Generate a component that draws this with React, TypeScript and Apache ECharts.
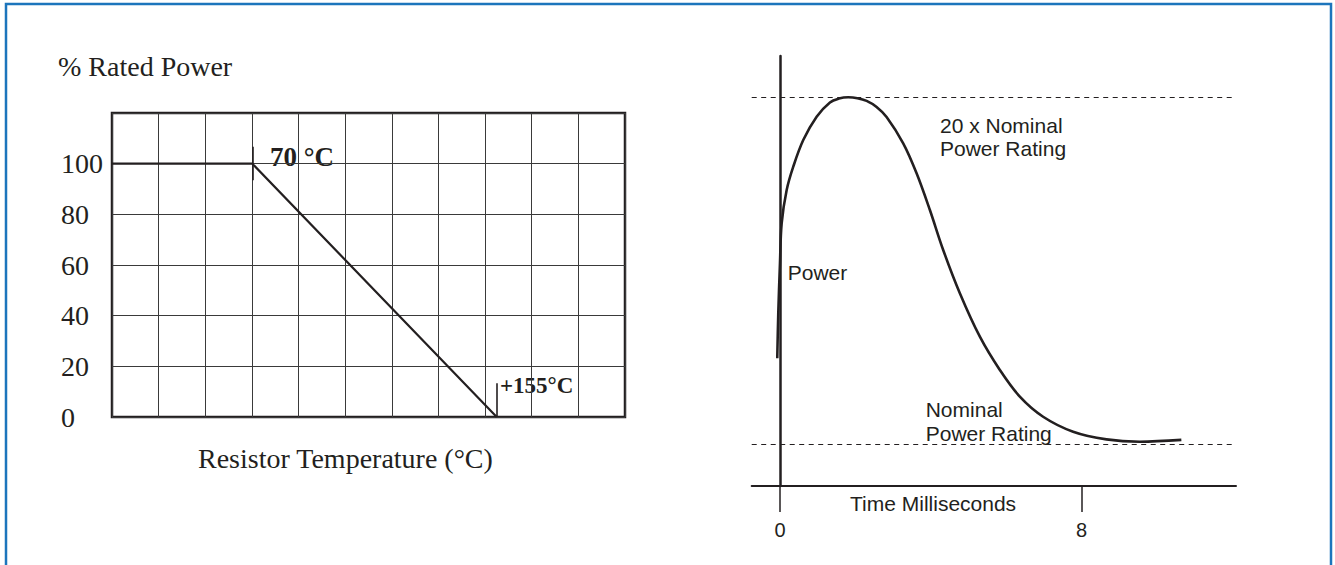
import React, { useEffect, useRef } from "react";
import * as echarts from "echarts";

// ---------- Left chart: derating curve ----------
const tempAxisMin = 21.2;
const tempAxisMax = 199.6;
const deratingTemps = [tempAxisMin, 70, 155];
const deratingPower = [100, 100, 0];
const powerTickLabels = [0, 20, 40, 60, 80, 100];
const powerAxisMax = 120;
const gridColumns = 11;

// ---------- Right chart: pulse curve ----------
const timeMs = [
  -0.072, -0.045, 0, 0.045, 0.178, 0.353, 0.618, 0.973, 1.326, 1.565, 1.811, 2.055, 2.299,
  2.564, 2.829, 3.27, 3.625, 3.978, 4.331, 4.773, 5.304, 5.834, 6.364, 6.982, 7.778, 8.664,
  9.547, 10.65,
];
const powerMultiple = [
  5.71, 8.17, 10.91, 13.1, 14.92, 16.2, 17.66, 18.94, 19.72, 19.93, 20.0, 19.95, 19.8,
  19.47, 18.92, 17.48, 15.84, 13.83, 11.64, 9.27, 6.89, 5.07, 3.61, 2.51, 1.69, 1.27,
  1.14, 1.24,
];
const timeTickValues = [0, 8];
const peakLevel = 20;
const nominalLevel = 1;

const INK = "#231f20";
const SERIF = "'Liberation Serif', 'Times New Roman', serif";
const SANS = "'Liberation Sans', Arial, sans-serif";

export default function App() {
  const ref = useRef<HTMLDivElement>(null);

  useEffect(() => {
    if (!ref.current) return;
    const chart = echarts.init(ref.current, undefined, { renderer: "svg" });

    const serifText = (x: number, y: number, text: string, size: number, bold = false) => ({
      type: "text",
      x,
      y,
      style: {
        text,
        fill: INK,
        font: `${bold ? "bold " : ""}${size}px ${SERIF}`,
        align: "left",
        verticalAlign: "middle",
      },
    });
    const sansText = (x: number, y: number, text: string, align = "left") => ({
      type: "text",
      x,
      y,
      style: {
        text,
        fill: INK,
        font: `21px ${SANS}`,
        align,
        verticalAlign: "middle",
      },
    });

    chart.setOption({
      animation: false,
      backgroundColor: "#ffffff",
      grid: [
        { left: 112, top: 113, width: 513, height: 304, show: true, borderColor: INK, borderWidth: 2.5, backgroundColor: "transparent" },
        { left: 751.7, top: 56, width: 484.3, height: 430 },
      ],
      xAxis: [
        { gridIndex: 0, type: "value", min: tempAxisMin, max: tempAxisMax, show: false },
        {
          gridIndex: 0,
          type: "value",
          min: 0,
          max: gridColumns,
          interval: 1,
          axisLine: { show: false },
          axisTick: { show: false },
          axisLabel: { show: false },
          splitLine: { show: true, lineStyle: { color: "#3a3a3a", width: 1 } },
        },
        {
          gridIndex: 1,
          type: "value",
          min: -0.75,
          max: 12.1,
          axisLine: { show: true, onZero: false, lineStyle: { color: INK, width: 2 } },
          axisTick: { show: true, customValues: timeTickValues, length: 26, lineStyle: { color: INK, width: 1.5 } },
          axisLabel: {
            show: true,
            customValues: timeTickValues,
            margin: 34,
            color: INK,
            fontFamily: SANS,
            fontSize: 20,
          },
          splitLine: { show: false },
        },
      ],
      yAxis: [
        {
          gridIndex: 0,
          type: "value",
          min: 0,
          max: powerAxisMax,
          interval: 20,
          axisLine: { show: false },
          axisTick: { show: false },
          axisLabel: {
            show: true,
            align: "left",
            margin: 51,
            color: INK,
            fontFamily: SERIF,
            fontSize: 28,
            verticalAlign: "middle",
            padding: [0, 0, 15, 0],
            formatter: (v: number) => (powerTickLabels.includes(v) ? String(v) : ""),
          },
          splitLine: { show: true, lineStyle: { color: "#3a3a3a", width: 1 } },
        },
        {
          gridIndex: 1,
          type: "value",
          min: -1.283,
          max: 22.26,
          axisLine: { show: true, onZero: true, lineStyle: { color: INK, width: 2.5 } },
          axisTick: { show: false },
          axisLabel: { show: false },
          splitLine: { show: false },
        },
      ],
      series: [
        {
          type: "line",
          xAxisIndex: 0,
          yAxisIndex: 0,
          data: deratingTemps.map((t, i) => [t, deratingPower[i]]),
          symbol: "none",
          lineStyle: { color: INK, width: 2.2 },
          z: 5,
          markLine: {
            silent: true,
            symbol: "none",
            label: { show: false },
            lineStyle: { color: INK, width: 1.6, type: "solid" },
            data: [
              [{ coord: [70, 93.5] }, { coord: [70, 106.7] }],
              [{ coord: [155, 0] }, { coord: [155, 13.3] }],
            ],
          },
        },
        {
          type: "line",
          xAxisIndex: 2,
          yAxisIndex: 1,
          data: timeMs.map((t, i) => [t, powerMultiple[i]]),
          symbol: "none",
          smooth: 0.35,
          lineStyle: { color: INK, width: 2.6 },
          z: 5,
          markLine: {
            silent: true,
            symbol: "none",
            label: { show: false },
            lineStyle: { color: INK, width: 1.2, type: [5, 4.5] },
            data: [{ yAxis: peakLevel }, { yAxis: nominalLevel }],
          },
        },
      ],
      graphic: [
        {
          type: "rect",
          shape: { x: 6, y: 4, width: 1325, height: 620 },
          style: { fill: "none", stroke: "#1c75bc", lineWidth: 2.5 },
          silent: true,
        },
        serifText(58, 66, "% Rated Power", 28),
        serifText(198, 458, "Resistor Temperature (°C)", 28),
        serifText(270, 157, "70 °C", 27, true),
        serifText(500, 385, "+155°C", 23, true),
        sansText(940, 125, "20 x Nominal"),
        sansText(940, 148.5, "Power Rating"),
        sansText(925.7, 409.5, "Nominal"),
        sansText(925.7, 433, "Power Rating"),
        sansText(787.7, 272.5, "Power"),
        sansText(850, 503, "Time Milliseconds"),
      ],
    });

    return () => chart.dispose();
  }, []);

  return (
    <div
      ref={ref}
      style={{ position: "absolute", left: 0, top: 0, width: 1335, height: 565, background: "#fff" }}
    />
  );
}
